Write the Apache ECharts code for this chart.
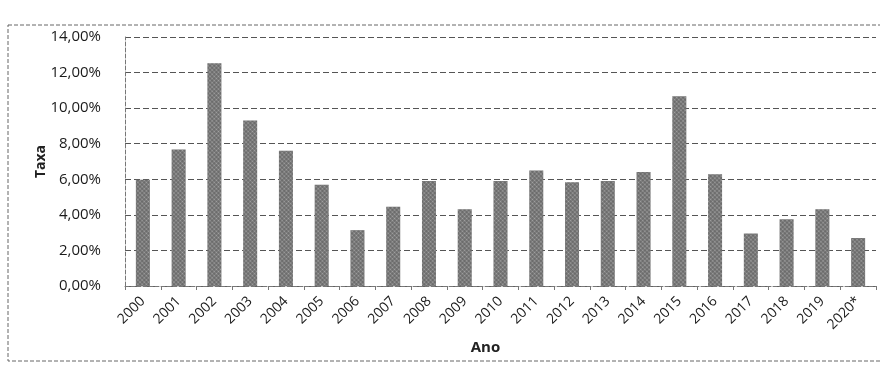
<!DOCTYPE html>
<html>
<head>
<meta charset="utf-8">
<script src="https://cdn.jsdelivr.net/npm/echarts@6/dist/echarts.min.js"></script>
<style>
  html, body { margin: 0; padding: 0; background: #fff; }
  #chart { width: 880px; height: 370px; }
</style>
</head>
<body>
<div id="chart"></div>
<script>
// anos e taxas
const anos = ['2000', '2001', '2002', '2003', '2004', '2005', '2006', '2007', '2008', '2009', '2010',
  '2011', '2012', '2013', '2014', '2015', '2016', '2017', '2018', '2019', '2020*'];
const taxas = [5.97, 7.67, 12.53, 9.30, 7.60, 5.69, 3.14, 4.46, 5.90, 4.31, 5.91,
  6.50, 5.84, 5.91, 6.41, 10.67, 6.29, 2.95, 3.75, 4.31, 2.70];
const yTicks = [0, 2, 4, 6, 8, 10, 12, 14];

const chart = echarts.init(document.getElementById('chart'));
const font = '"Open Sans", Lato, sans-serif';

const option = {
  animation: false,
  backgroundColor: '#fff',
  graphic: [
    {
      type: 'rect',
      shape: { x: 8, y: 25, width: 880, height: 336 },
      style: { fill: 'none', stroke: '#666', lineWidth: 1, lineDash: [4, 2] },
      silent: true
    }
  ],
  grid: { left: 125, right: 4, top: 37, bottom: 84 },
  xAxis: {
    type: 'category',
    data: anos,
    name: 'Ano',
    nameLocation: 'middle',
    nameGap: 54,
    nameTextStyle: { fontFamily: font, fontSize: 15, fontWeight: 'bold', color: '#222', padding: [0, 30, 0, 0] },
    axisLine: { lineStyle: { color: '#777', type: 'dashed' } },
    axisTick: { show: true, alignWithLabel: false, length: 4, lineStyle: { color: '#777' } },
    axisLabel: { rotate: 45, margin: 13, fontFamily: font, fontSize: 14, color: '#1a1a1a' }
  },
  yAxis: {
    type: 'value',
    min: 0,
    max: yTicks[yTicks.length - 1],
    interval: 2,
    name: 'Taxa',
    nameLocation: 'middle',
    nameGap: 77,
    nameMoveOverlap: false,
    nameTextStyle: { fontFamily: font, fontSize: 14, fontWeight: 'bold', color: '#222' },
    axisLine: { show: true, lineStyle: { color: '#777', type: 'dashed' } },
    axisTick: { show: false },
    axisLabel: {
      margin: 24,
      fontFamily: font,
      fontSize: 15,
      color: '#1a1a1a',
      formatter: v => v.toFixed(2).replace('.', ',') + '%'
    },
    splitLine: { lineStyle: { color: '#555', type: [6, 3], width: 1 } }
  },
  series: [
    {
      type: 'bar',
      data: taxas,
      barWidth: 14,
      itemStyle: {
        color: '#666',
        decal: {
          symbol: 'circle',
          symbolSize: 0.7,
          color: 'rgba(255,255,255,0.4)',
          dashArrayX: [3, 0],
          dashArrayY: [3, 0],
          rotation: Math.PI / 4
        }
      }
    }
  ]
};

chart.setOption(option);
</script>
</body>
</html>
